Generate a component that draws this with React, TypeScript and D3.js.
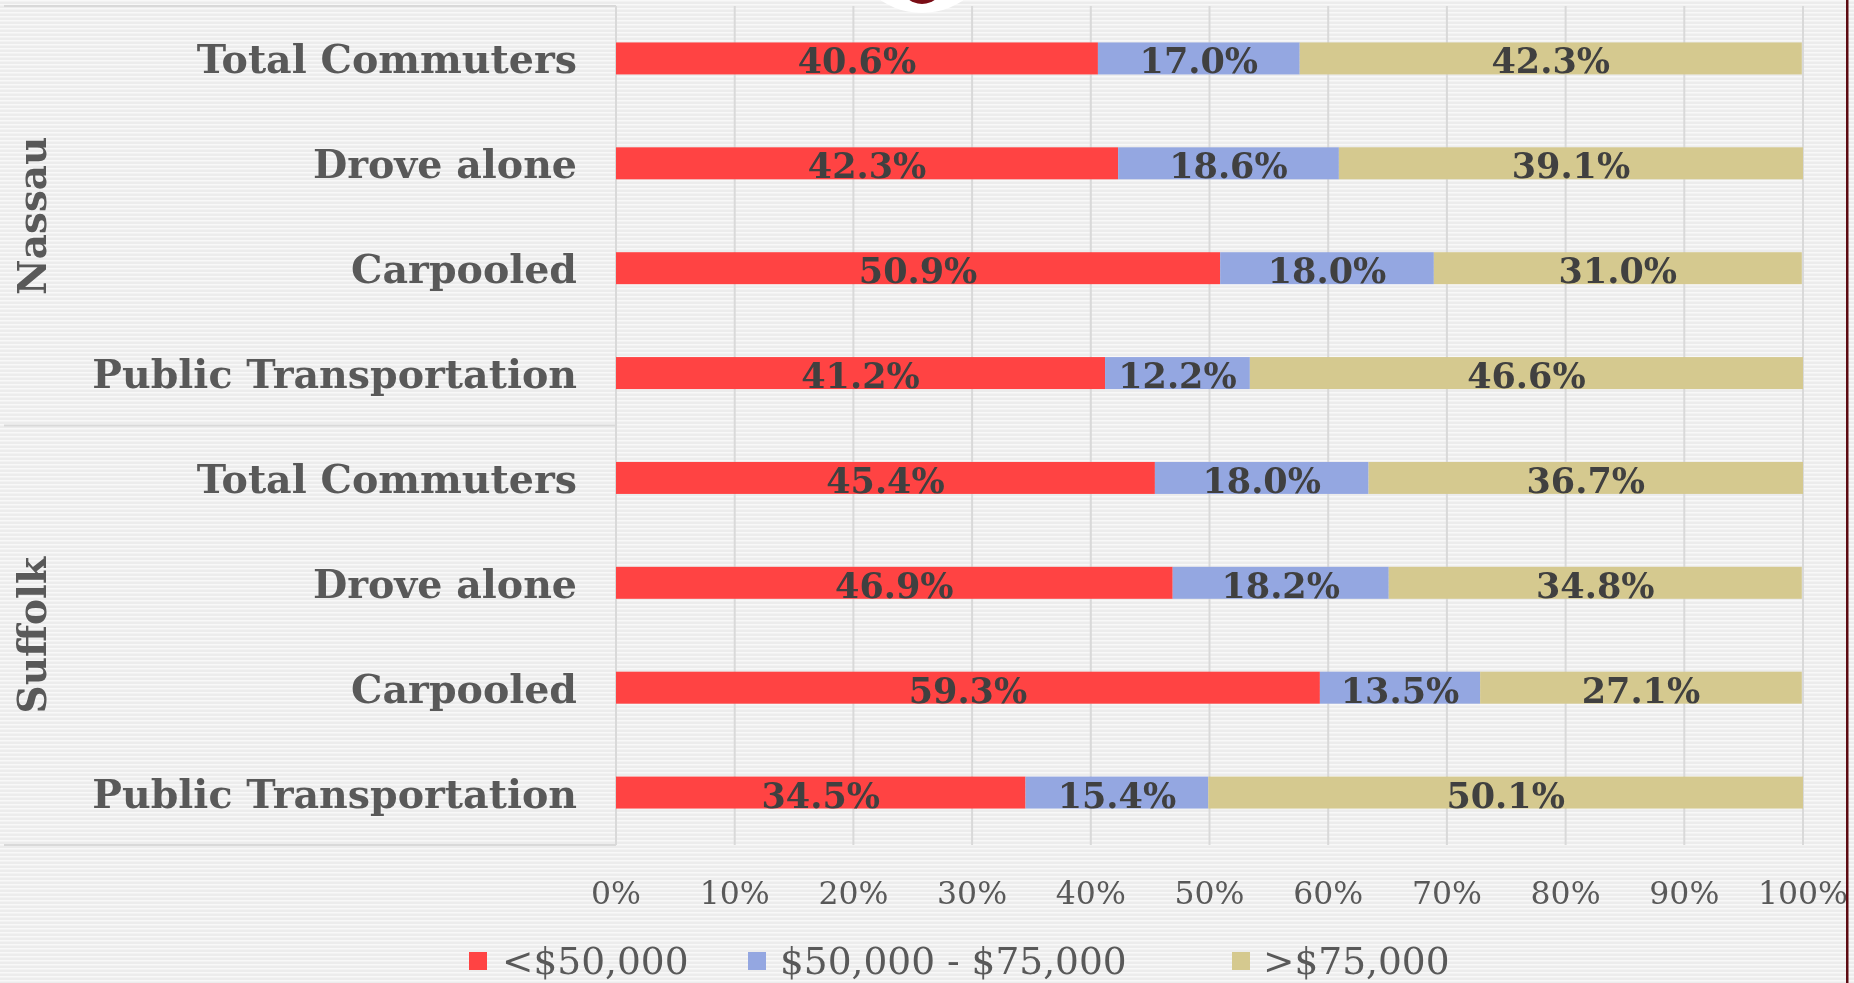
import React from "react";
import * as d3 from "d3";

const groups = ["Nassau", "Suffolk"];
const categories = ["Total Commuters", "Drove alone", "Carpooled", "Public Transportation"];
const seriesNames = ["<$50,000", "$50,000 - $75,000", ">$75,000"];
const nassauLow = [40.6, 42.3, 50.9, 41.2];
const nassauMid = [17.0, 18.6, 18.0, 12.2];
const nassauHigh = [42.3, 39.1, 31.0, 46.6];
const suffolkLow = [45.4, 46.9, 59.3, 34.5];
const suffolkMid = [18.0, 18.2, 13.5, 15.4];
const suffolkHigh = [36.7, 34.8, 27.1, 50.1];
const xTicks = [0, 10, 20, 30, 40, 50, 60, 70, 80, 90, 100];
const colors = ["#ff4343", "#94a7e1", "#d5c98f"];

const W = 1854;
const H = 983;
const FONT = "'DejaVu Serif', Georgia, serif";

type Row = { key: string; group: string; cat: string; vals: number[] };
const rows: Row[] = [];
categories.forEach((c, i) => rows.push({ key: "N" + i, group: groups[0], cat: c, vals: [nassauLow[i], nassauMid[i], nassauHigh[i]] }));
categories.forEach((c, i) => rows.push({ key: "S" + i, group: groups[1], cat: c, vals: [suffolkLow[i], suffolkMid[i], suffolkHigh[i]] }));

export default function App() {
  const top = 6, bottom = 845, left = 616, right = 1803;
  const y = d3.scaleBand<string>().domain(rows.map(r => r.key)).range([top, bottom]).paddingInner(0.695).paddingOuter(0.3475);
  const x = d3.scaleLinear().domain([0, 100]).range([left, right]);
  const mid = (top + bottom) / 2;
  const groupCenters = [(top + mid) / 2, (mid + bottom) / 2];

  const legendItems = [
    { sq: 469, tx: 502 },
    { sq: 748, tx: 780 },
    { sq: 1232, tx: 1263 },
  ];

  return (
    <svg width={W} height={H} style={{ position: "fixed", left: 0, top: 0 }} fontFamily={FONT}>
      <defs>
        <pattern id="stripes" width="8" height="4" patternUnits="userSpaceOnUse">
          <rect width="8" height="4" fill="#ececec" />
          <rect y="0" width="8" height="1.5" fill="#f8f8f8" />
        </pattern>
      </defs>
      <rect width={W} height={H} fill="url(#stripes)" />
      {/* logo fragment at top */}
      <circle cx={922} cy={-60} r={73} fill="#ffffff" />
      <circle cx={922} cy={-18} r={22} fill="#7a0d16" />

      {/* gridlines */}
      {xTicks.map(t => (
        <line key={t} x1={x(t)} x2={x(t)} y1={top} y2={bottom} stroke="#d9d9d9" strokeWidth={2} />
      ))}
      {/* left category box lines */}
      <line x1={4} x2={left} y1={top} y2={top} stroke="#d9d9d9" strokeWidth={2} />
      <line x1={4} x2={left} y1={mid} y2={mid} stroke="#d9d9d9" strokeWidth={2} />
      <line x1={4} x2={left} y1={bottom} y2={bottom} stroke="#d9d9d9" strokeWidth={2} />

      {/* bars */}
      {rows.map(r => {
        let acc = 0;
        const yy = y(r.key)!;
        const bw = y.bandwidth();
        return (
          <g key={r.key}>
            {r.vals.map((v, i) => {
              const x0 = x(acc);
              acc += v;
              const x1 = x(Math.min(acc, 100));
              return (
                <g key={i}>
                  <rect x={x0} y={yy} width={x1 - x0} height={bw} fill={colors[i]} />
                  <text x={(x0 + x1) / 2} y={yy + bw / 2 + 15} textAnchor="middle" fontSize={35} fontWeight="bold" fill="#404040">
                    {v.toFixed(1)}%
                  </text>
                </g>
              );
            })}
            <text x={577} y={yy + bw / 2 + 15} textAnchor="end" fontSize={39.5} fontWeight="bold" fill="#595959">
              {r.cat}
            </text>
          </g>
        );
      })}

      {/* group labels */}
      {groups.map((g, i) => (
        <text key={g} transform={`translate(46,${groupCenters[i]}) rotate(-90)`} textAnchor="middle" fontSize={39} fontWeight="bold" fill="#595959">
          {g}
        </text>
      ))}

      {/* tick labels */}
      {xTicks.map(t => (
        <text key={t} x={x(t)} y={904} textAnchor="middle" fontSize={31.5} fill="#595959">
          {t}%
        </text>
      ))}

      {/* legend */}
      {seriesNames.map((s, i) => (
        <g key={s}>
          <rect x={legendItems[i].sq} y={952} width={18} height={18} fill={colors[i]} />
          <text x={legendItems[i].tx} y={974} fontSize={37.5} fill="#595959">
            {s}
          </text>
        </g>
      ))}

      {/* right edge line */}
      <rect x={1846} y={0} width={2.5} height={H} fill="#5c0b12" />
    </svg>
  );
}
